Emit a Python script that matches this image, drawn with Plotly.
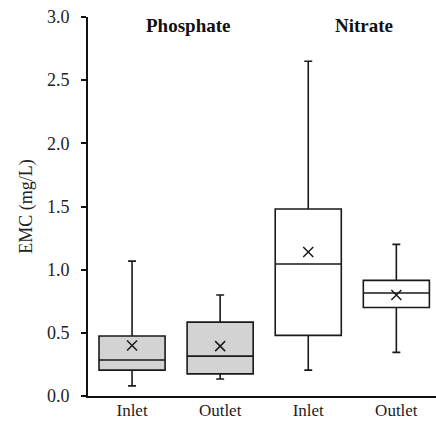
import plotly.graph_objects as go

categories = ["Inlet", "Outlet", "Inlet", "Outlet"]
groups = ["Phosphate", "Phosphate", "Nitrate", "Nitrate"]
lower = [0.08, 0.135, 0.205, 0.345]
q1 = [0.205, 0.175, 0.48, 0.70]
median = [0.285, 0.316, 1.045, 0.815]
q3 = [0.475, 0.585, 1.48, 0.915]
upper = [1.068, 0.80, 2.65, 1.20]
mean = [0.40, 0.395, 1.14, 0.80]
group_titles = ["Phosphate", "Nitrate"]
y_ticks = [0.0, 0.5, 1.0, 1.5, 2.0, 2.5, 3.0]

xs = list(range(len(categories)))
fills = {"Phosphate": "#d3d3d3", "Nitrate": "#ffffff"}

fig = go.Figure()
for g in group_titles:
    idx = [i for i in xs if groups[i] == g]
    fig.add_trace(go.Box(
        x=idx,
        q1=[q1[i] for i in idx],
        median=[median[i] for i in idx],
        q3=[q3[i] for i in idx],
        lowerfence=[lower[i] for i in idx],
        upperfence=[upper[i] for i in idx],
        width=0.75,
        whiskerwidth=0.12,
        fillcolor=fills[g],
        line=dict(color="#1a1a1a", width=1.6),
        boxpoints=False,
        showlegend=False,
        hoverinfo="skip",
    ))

fig.add_trace(go.Scatter(
    x=xs, y=mean, mode="markers",
    marker=dict(symbol="x-thin", size=10, line=dict(color="#1a1a1a", width=1.5)),
    showlegend=False, hoverinfo="skip",
))

for g in group_titles:
    idx = [i for i in xs if groups[i] == g]
    fig.add_annotation(
        x=sum(idx) / len(idx) + 0.13, y=2.93, text="<b>%s</b>" % g,
        showarrow=False, xref="x", yref="y",
        font=dict(family="Liberation Serif", size=19, color="#111"),
    )

fig.update_layout(
    width=436, height=421,
    margin=dict(l=88, r=0, t=17, b=25),
    paper_bgcolor="white", plot_bgcolor="white",
    font=dict(family="Liberation Serif", size=18, color="#222"),
)
fig.update_xaxes(
    range=[-0.5, 3.45], tickvals=xs, ticktext=categories,
    showline=True, linecolor="#111", linewidth=2, showgrid=False,
    zeroline=False, ticks="", tickfont=dict(size=17), automargin=False,
    ticklabelstandoff=-2,
)
fig.update_yaxes(
    range=[0, 3.0], tickvals=y_ticks, ticktext=["%.1f" % v for v in y_ticks],
    showline=True, linecolor="#111", linewidth=2, showgrid=False,
    zeroline=False, ticks="outside", ticklen=5, tickcolor="#111", tickwidth=1.5,
    tickfont=dict(size=18), ticklabelstandoff=8, automargin=False,
    title=dict(text="EMC (mg/L)", font=dict(size=18), standoff=10),
)

fig.write_html("out.html")
